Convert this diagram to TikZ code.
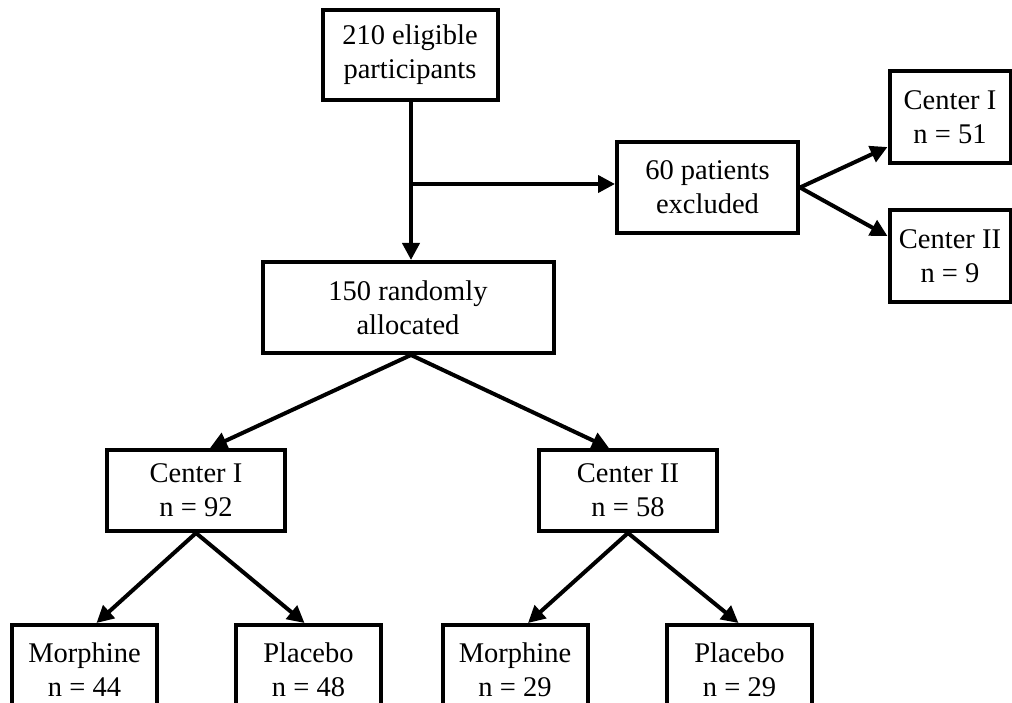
\documentclass[tikz,border=0pt]{standalone}
\usepackage{fontspec}
\setmainfont{Liberation Serif}
\usetikzlibrary{arrows.meta,calc}
\begin{document}
\begin{tikzpicture}[x=1pt,y=-1pt,
  box/.style={draw=black,line width=4pt,fill=white,inner sep=0pt,align=center,
    font=\fontsize{28.5}{34}\selectfont},
  arr/.style={line width=4pt,-{Triangle[length=17pt,width=17pt]}}]
\useasboundingbox (0,0) rectangle (1012,703);
\clip (0,0) rectangle (1012,703);
\node[box,minimum width=175pt,minimum height=90pt] (a) at (410,55) {210 eligible\\participants};
\node[box,minimum width=181pt,minimum height=91pt] (excl) at (707.5,187.5) {60 patients\\excluded};
\node[box,minimum width=121pt,minimum height=92pt] (r1) at (950,117) {Center I\\n = 51};
\node[box,minimum width=121pt,minimum height=92pt] (r2) at (950,256) {Center II\\n = 9};
\node[box,minimum width=291pt,minimum height=91pt] (b) at (408,307.5) {150 randomly\\allocated};
\node[box,minimum width=178pt,minimum height=81pt] (c1) at (196,490.5) {Center I\\n = 92};
\node[box,minimum width=178pt,minimum height=81pt] (c2) at (628,490.5) {Center II\\n = 58};
\node[box,minimum width=145pt,minimum height=90pt] (m1) at (84.5,670) {Morphine\\n = 44};
\node[box,minimum width=145pt,minimum height=90pt] (p1) at (308.5,670) {Placebo\\n = 48};
\node[box,minimum width=145pt,minimum height=90pt] (m2) at (515,670) {Morphine\\n = 29};
\node[box,minimum width=145pt,minimum height=90pt] (p2) at (739.5,670) {Placebo\\n = 29};
\coordinate (j) at ($(a.south)+(1,82)$);
\draw[arr] (a.south -| j) -- (j |- b.north);
\draw[arr] (j) -- (j -| excl.west);
\draw[arr] (excl.east) -- ($(r1.south west)+(0,-18)$);
\draw[arr] (excl.east) -- ($(r2.north west)+(0,28)$);
\draw[arr] (b.south -| j) -- ($(c1.north)+(14,0)$);
\draw[arr] (b.south -| j) -- ($(c2.north)+(-19,0)$);
\draw[arr] (c1.south) -- ($(m1.north)+(12,0)$);
\draw[arr] (c1.south) -- ($(p1.north)+(-4,0)$);
\draw[arr] (c2.south) -- ($(m2.north)+(13,0)$);
\draw[arr] (c2.south) -- ($(p2.north)+(-1,0)$);
\end{tikzpicture}
\end{document}
